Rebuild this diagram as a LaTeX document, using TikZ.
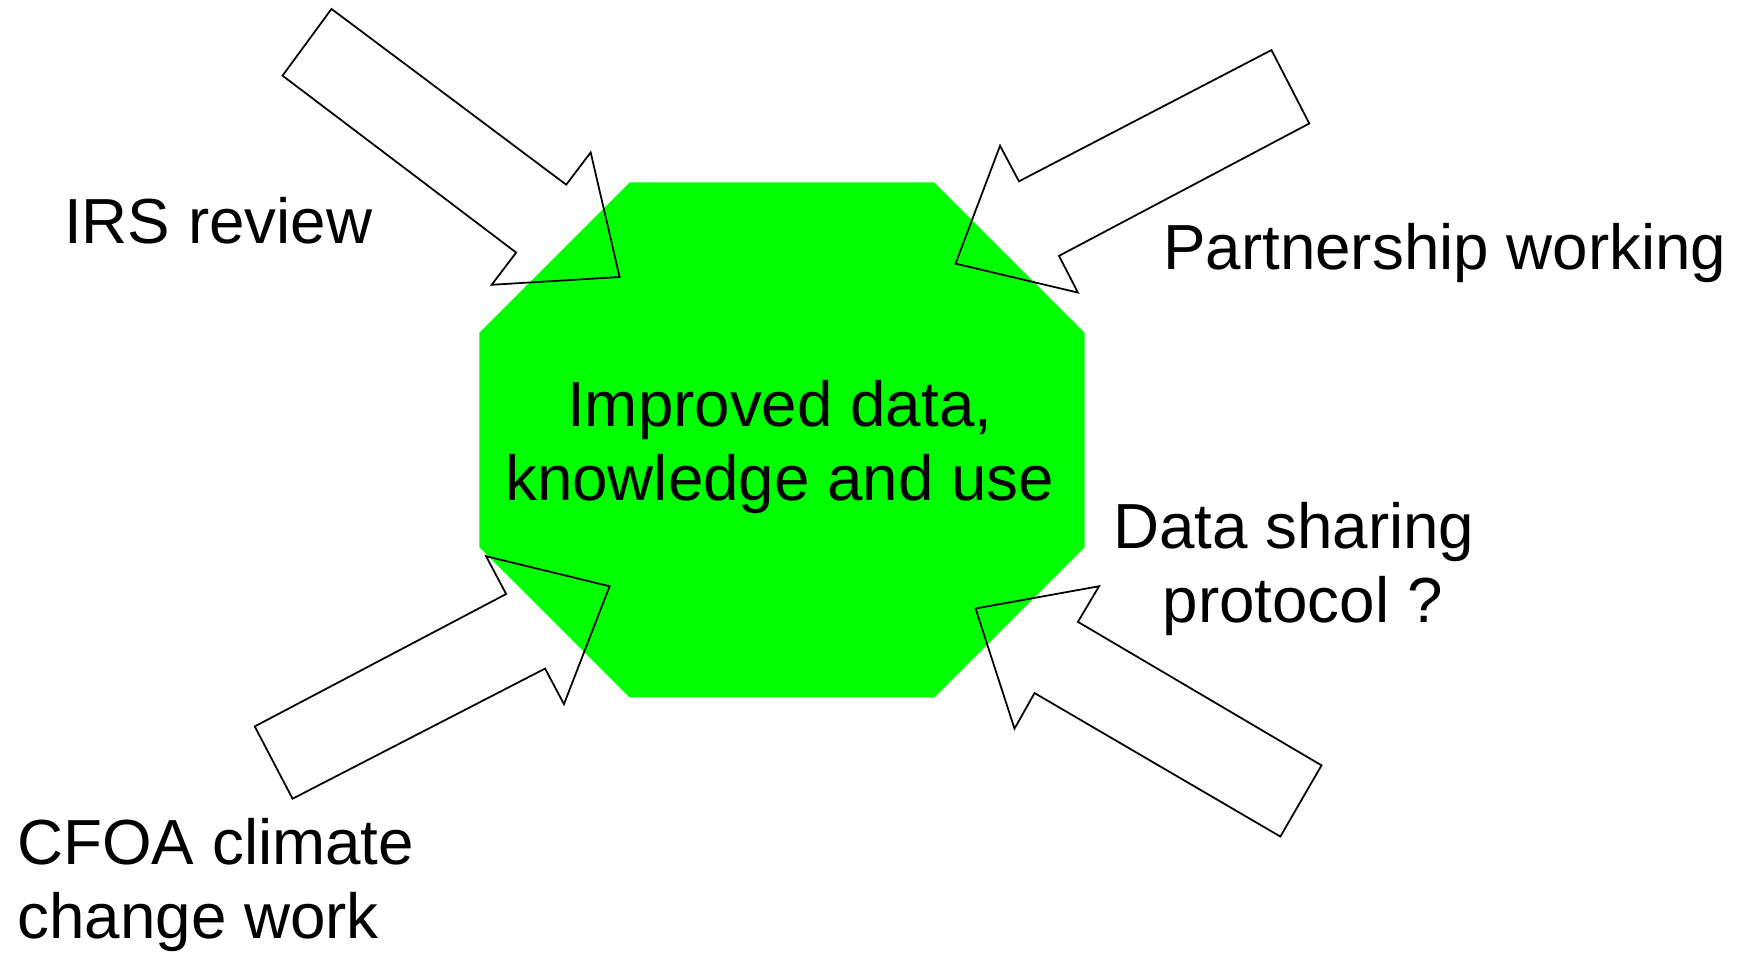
\documentclass[tikz,border=0pt]{standalone}
\usepackage{fontspec}
\setmainfont{Liberation Sans}

\begin{document}
\begin{tikzpicture}[x=0.1mm, y=-0.1mm,
  every node/.style={inner sep=0pt, font=\fontsize{16.3}{19}\selectfont},
  blockarrow/.style={draw, line width=0.45pt, line join=miter}]
\useasboundingbox (0,0) rectangle (1566,858);
\fill[green] (566,164) -- (840,164) -- (975,299) -- (975,492) -- (840,627) -- (566,627) -- (431,492) -- (431,299) -- cycle;
\node (1) [align=center, anchor=north] at (701,341) {Improved data,\\knowledge and use};
\node (2) [anchor=base west] at (57,219) {IRS review};
\node (3) [anchor=base west] at (1045,242) {Partnership working};
\node (4) [align=center, anchor=north] at (1171,451) {Data sharing\ \mbox{}\\protocol ?};
\node (5) [align=left, anchor=north west] at (15,735) {CFOA climate\\change work};
% arrows pointing into the octagon
\draw[blockarrow] (254,68) -- (298,8) -- (509,166) -- (531,137) -- (557,249) -- (442,256) -- (464,227) -- cycle;
\draw[blockarrow] (1143,45) -- (1177,111) -- (952,230) -- (969,263) -- (859,237) -- (899,131) -- (916,163) -- cycle;
\draw[blockarrow] (229,653) -- (455,534) -- (437,500) -- (548,527) -- (507,633) -- (490,601) -- (263,718) -- cycle;
\draw[blockarrow] (1188,688) -- (1151,752) -- (930,623) -- (912,655) -- (877,547) -- (988,527) -- (969,559) -- cycle;
\end{tikzpicture}
\end{document}
